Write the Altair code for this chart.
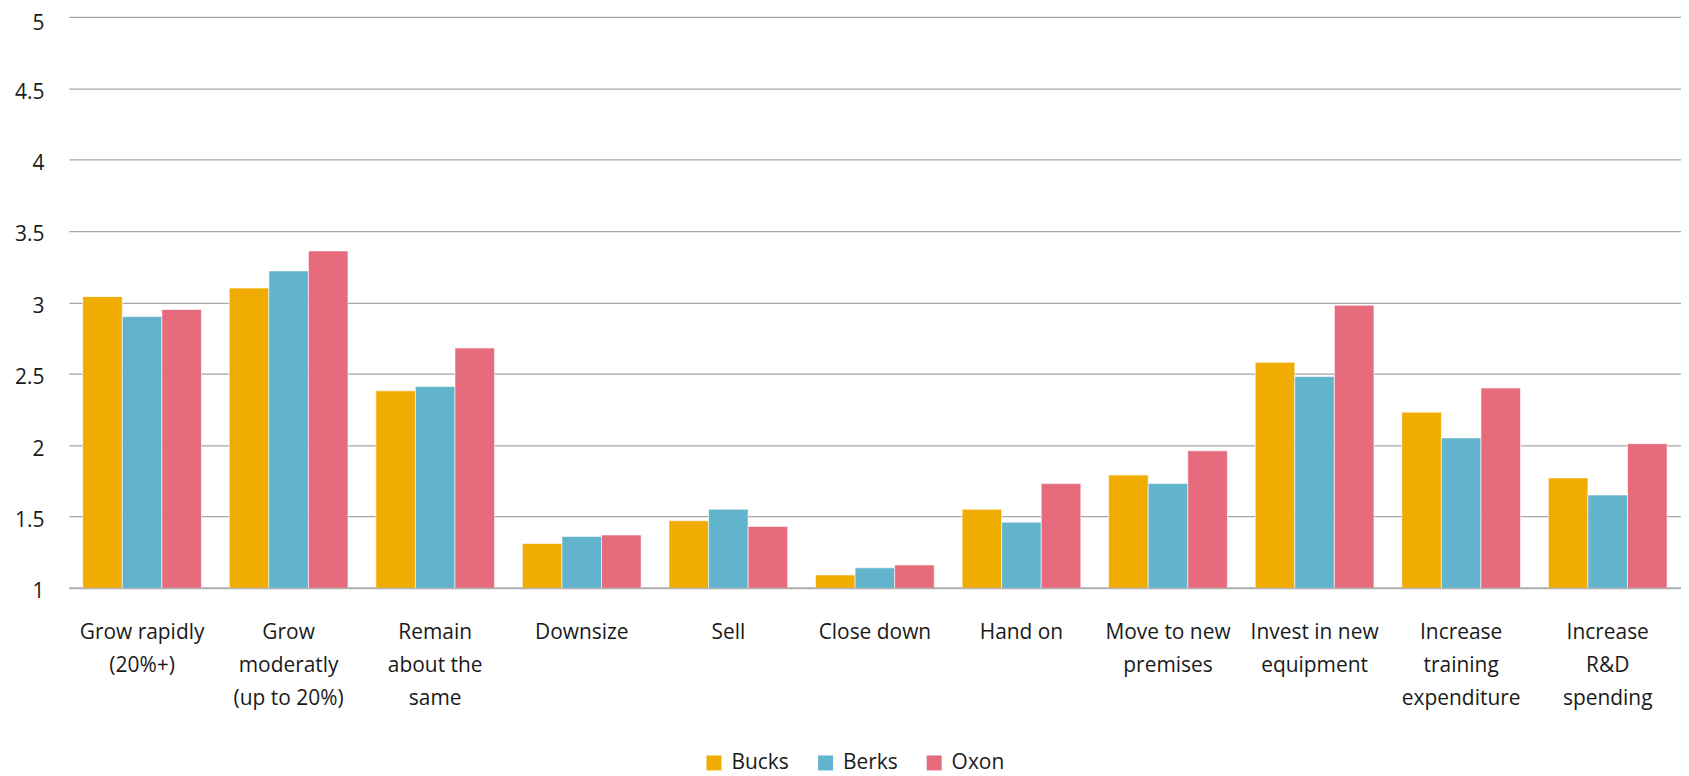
import altair as alt
import pandas as pd

categories = [
    "Grow rapidly|(20%+)",
    "Grow|moderatly|(up to 20%)",
    "Remain|about the|same",
    "Downsize",
    "Sell",
    "Close down",
    "Hand on",
    "Move to new|premises",
    "Invest in new|equipment",
    "Increase|training|expenditure",
    "Increase|R&D|spending",
]
series = ["Bucks", "Berks", "Oxon"]
bucks = [3.04, 3.10, 2.38, 1.31, 1.47, 1.09, 1.55, 1.79, 2.58, 2.23, 1.77]
berks = [2.90, 3.22, 2.41, 1.36, 1.55, 1.14, 1.46, 1.73, 2.48, 2.05, 1.65]
oxon = [2.95, 3.36, 2.68, 1.37, 1.43, 1.16, 1.73, 1.96, 2.98, 2.40, 2.01]
colors = ["#F0AC00", "#62B3CC", "#E56B7D"]
y_ticks = [1, 1.5, 2, 2.5, 3, 3.5, 4, 4.5, 5]

rows = []
for name, vals in zip(series, [bucks, berks, oxon]):
    for c, v in zip(categories, vals):
        rows.append({"Category": c, "Series": name, "Value": v})
df = pd.DataFrame(rows)

FONT = "Open Sans"
FS = 21

chart = (
    alt.Chart(df)
    .mark_bar(stroke="white", strokeWidth=0.6, clip=True)
    .encode(
        x=alt.X(
            "Category:N",
            sort=categories,
            title=None,
            scale=alt.Scale(paddingInner=0.19, paddingOuter=0.095),
            axis=alt.Axis(
                labelExpr="split(datum.value, '|')",
                labelAngle=0,
                labelFontSize=FS,
                labelLineHeight=33,
                labelPadding=34,
                labelLimit=400,
                labelOverlap=False,
                labelColor="#1a1a1a",
                labelFont=FONT,
                ticks=False,
                domain=True,
                domainColor="#AFAFAF",
                domainWidth=2,
                grid=False,
            ),
        ),
        xOffset=alt.XOffset("Series:N", sort=series, scale=alt.Scale(paddingInner=0, paddingOuter=0)),
        y=alt.Y(
            "Value:Q",
            title=None,
            scale=alt.Scale(domain=[1, 5], zero=False, nice=False),
            axis=alt.Axis(
                values=y_ticks,
                format=".1~f",
                labelFontSize=FS,
                labelColor="#1a1a1a",
                labelFont=FONT,
                labelPadding=25,
                labelOffset={"condition": {"test": "datum.value >= 5", "value": 7}, "value": 4},
                ticks=False,
                domain=False,
                gridColor="#A6A6A6",
                gridWidth=1.3,
            ),
        ),
        color=alt.Color(
            "Series:N",
            sort=series,
            scale=alt.Scale(domain=series, range=colors),
            legend=alt.Legend(
                title=None,
                orient="none",
                legendX=637,
                legendY=738,
                direction="horizontal",
                symbolType="square",
                symbolSize=225,
                symbolStrokeWidth=0,
                labelFontSize=FS,
                labelFont=FONT,
                labelColor="#1a1a1a",
                labelOffset=7,
                columnPadding=26,
            ),
        ),
    )
    .properties(
        width=1618,
        height=573,
        autosize=alt.AutoSizeParams(type="none"),
        padding={"left": 61, "top": 7.5, "right": 0, "bottom": 195},
    )
    .configure_view(stroke=None)
)

chart.save("out.html", embed_options={"renderer": "svg", "actions": False})
